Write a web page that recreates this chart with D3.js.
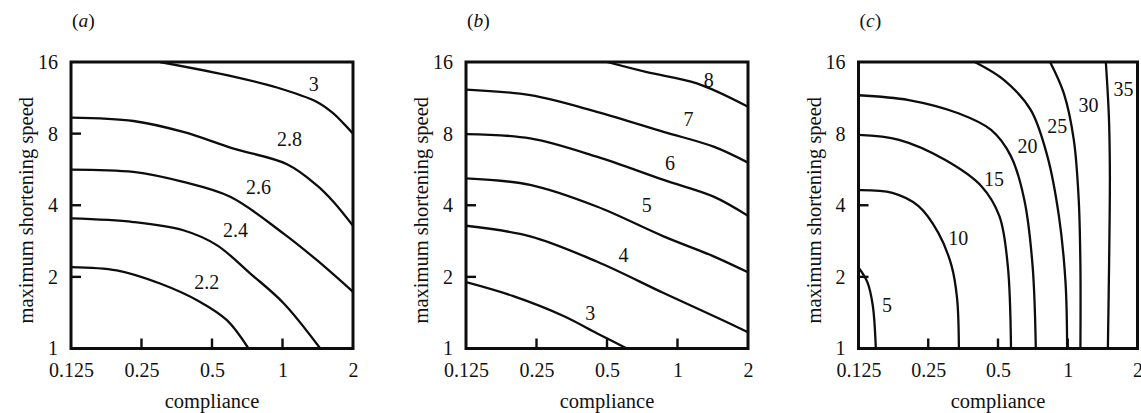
<!DOCTYPE html>
<html><head><meta charset="utf-8">
<script src="https://cdn.jsdelivr.net/npm/d3@7"></script>
<style>body{margin:0;background:#fff}svg{display:block}text{font-family:"Liberation Serif","Times New Roman",serif;fill:#111}</style>
</head><body><svg id="c" width="1141" height="413"></svg>
<script>
// ---- data (compliance, max shortening speed) ----
const xTickValues = [0.125, 0.25, 0.5, 1, 2];
const xTickLabels = ["0.125", "0.25", "0.5", "1", "2"];
const yTickValues = [1, 2, 4, 8, 16];
const yTickLabels = ["1", "2", "4", "8", "16"];
const panelLetters = ["a", "b", "c"];
const innerXTicks = [[0.25, 0.5, 1], [0.25, 0.5, 1], [0.25, 0.5, 1]];
const innerYTicks = [[2, 4, 8], [2, 4], [2, 4]];

const contoursA = [
  {level: "2.2", label: [0.475, 1.9], pts: [[0.125,2.2],[0.196,2.13],[0.30,1.875],[0.445,1.57],[0.579,1.315],[0.716,1]]},
  {level: "2.4", label: [0.63, 3.14], pts: [[0.125,3.52],[0.231,3.40],[0.377,3.14],[0.524,2.72],[0.727,2.07],[1.011,1.55],[1.45,1]]},
  {level: "2.6", label: [0.79, 4.78], pts: [[0.125,5.65],[0.231,5.52],[0.377,5.01],[0.598,4.34],[1.011,3.04],[1.403,2.35],[2,1.73]]},
  {level: "2.8", label: [1.07, 7.6], pts: [[0.125,9.34],[0.231,9.04],[0.377,8.13],[0.618,6.92],[1.045,5.95],[1.403,4.85],[1.653,4.13],[2,3.28]]},
  {level: "3", label: [1.36, 12.97], pts: [[0.30,16],[0.618,13.9],[0.946,12.5],[1.403,10.87],[1.653,9.71],[1.825,8.81],[2,8.0]]}
];
const contoursB = [
  {level: "3", label: [0.424, 1.41], pts: [[0.125,1.9],[0.199,1.66],[0.326,1.37],[0.452,1.16],[0.608,1]]},
  {level: "4", label: [0.588, 2.48], pts: [[0.125,3.28],[0.235,2.96],[0.452,2.32],[0.872,1.71],[1.426,1.37],[2,1.17]]},
  {level: "5", label: [0.74, 4.01], pts: [[0.125,5.19],[0.235,4.87],[0.452,3.95],[0.872,2.96],[1.426,2.44],[2,2.09]]},
  {level: "6", label: [0.93, 6.0], pts: [[0.125,7.96],[0.235,7.64],[0.452,6.4],[0.872,5.11],[1.426,4.35],[2,3.61]]},
  {level: "7", label: [1.115, 9.26], pts: [[0.125,12.25],[0.235,11.6],[0.452,9.88],[0.872,8.14],[1.426,7.05],[2,6.04]]},
  {level: "8", label: [1.36, 13.5], pts: [[0.5,16],[0.74,14.5],[1.21,13.0],[2,10.37]]}
];
const contoursC = [
  {level: "5", label: [0.166, 1.52], pts: [[0.125,2.19],[0.1365,1.9],[0.144,1.52],[0.1485,1]]},
  {level: "10", label: [0.337, 2.9], pts: [[0.125,4.63],[0.175,4.51],[0.227,3.97],[0.276,3.07],[0.315,2.23],[0.333,1.62],[0.339,1]]},
  {level: "15", label: [0.48, 5.16], pts: [[0.125,7.9],[0.187,7.53],[0.295,6.21],[0.424,4.81],[0.507,3.6],[0.551,2.23],[0.569,1]]},
  {level: "20", label: [0.67, 7.11], pts: [[0.125,11.6],[0.206,11.07],[0.337,9.74],[0.467,8.29],[0.569,6.42],[0.649,4.23],[0.705,2.23],[0.728,1]]},
  {level: "25", label: [0.9, 8.62], pts: [[0.397,16],[0.533,13.4],[0.693,10.05],[0.817,6.42],[0.916,3.6],[0.978,1.9],[0.994,1]]},
  {level: "30", label: [1.23, 10.55], pts: [[0.839,16],[0.962,11.8],[1.062,7.53],[1.115,4.23],[1.134,2.23],[1.134,1]]},
  {level: "35", label: [1.74, 12.38], pts: [[1.46,16],[1.505,9.43],[1.52,5.5],[1.51,2.5],[1.49,1]]}
];
const panels = [contoursA, contoursB, contoursC];

// ---- layout ----
const panelLeft = [71, 466, 858.5];
const panelW = [282, 282, 279];
const plotTop = 62, plotH = 286.5;
const svg = d3.select("#c");

panels.forEach((contours, i) => {
  const plotW = panelW[i];
  const g = svg.append("g").attr("transform", `translate(${panelLeft[i]},${plotTop})`);
  const x = d3.scaleLog().base(2).domain([0.125, 2]).range([0, plotW]);
  const y = d3.scaleLog().base(2).domain([1, 16]).range([plotH, 0]);

  const clipId = "clip" + i;
  g.append("clipPath").attr("id", clipId).append("rect")
    .attr("x", 0).attr("y", 0).attr("width", plotW).attr("height", plotH);

  const line = d3.line().x(d => x(d[0])).y(d => y(d[1])).curve(d3.curveCatmullRom.alpha(0.5));
  g.append("g").attr("clip-path", `url(#${clipId})`)
    .selectAll("path").data(contours).join("path")
    .attr("d", d => line(d.pts)).attr("fill", "none")
    .attr("stroke", "#0d0d0d").attr("stroke-width", 2.3);

  g.selectAll("text.cl").data(contours).join("text").attr("class", "cl")
    .attr("x", d => x(d.label[0])).attr("y", d => y(d.label[1]))
    .attr("text-anchor", "middle").attr("dominant-baseline", "central")
    .attr("font-size", 20).text(d => d.level);

  g.append("rect").attr("x", 0).attr("y", 0).attr("width", plotW).attr("height", plotH)
    .attr("fill", "none").attr("stroke", "#0d0d0d").attr("stroke-width", 3);

  g.selectAll("line.xt").data(innerXTicks[i]).join("line").attr("class", "xt")
    .attr("x1", d => x(d)).attr("x2", d => x(d)).attr("y1", plotH).attr("y2", plotH - 10)
    .attr("stroke", "#0d0d0d").attr("stroke-width", 2.4);
  g.selectAll("line.yt").data(innerYTicks[i]).join("line").attr("class", "yt")
    .attr("y1", d => y(d)).attr("y2", d => y(d)).attr("x1", 0).attr("x2", 10)
    .attr("stroke", "#0d0d0d").attr("stroke-width", 2.4);

  const xAxis = d3.axisBottom(x).tickValues(xTickValues)
    .tickFormat((d, k) => xTickLabels[k]).tickSize(0).tickPadding(14);
  const xa = g.append("g").attr("transform", `translate(0,${plotH})`).call(xAxis);
  const yAxis = d3.axisLeft(y).tickValues(yTickValues)
    .tickFormat((d, k) => yTickLabels[k]).tickSize(0).tickPadding(13);
  const ya = g.append("g").call(yAxis);
  [xa, ya].forEach(a => {
    a.select(".domain").remove();
    a.selectAll("text").attr("font-size", 20).attr("font-family", "Liberation Serif, serif").attr("fill", "#111");
  });

  g.append("text").attr("x", plotW / 2).attr("y", 346)
    .attr("text-anchor", "middle").attr("font-size", 20.5).text("compliance");
  g.append("text").attr("transform", `translate(-45,${plotH / 2 + 5}) rotate(-90)`)
    .attr("text-anchor", "middle").attr("font-size", 20.5).attr("dominant-baseline", "central")
    .text("maximum shortening speed");

  const pl = g.append("text").attr("x", 1).attr("y", -35).attr("font-size", 19.5);
  pl.append("tspan").text("(");
  pl.append("tspan").attr("font-style", "italic").text(panelLetters[i]);
  pl.append("tspan").text(")");
});
</script></body></html>
